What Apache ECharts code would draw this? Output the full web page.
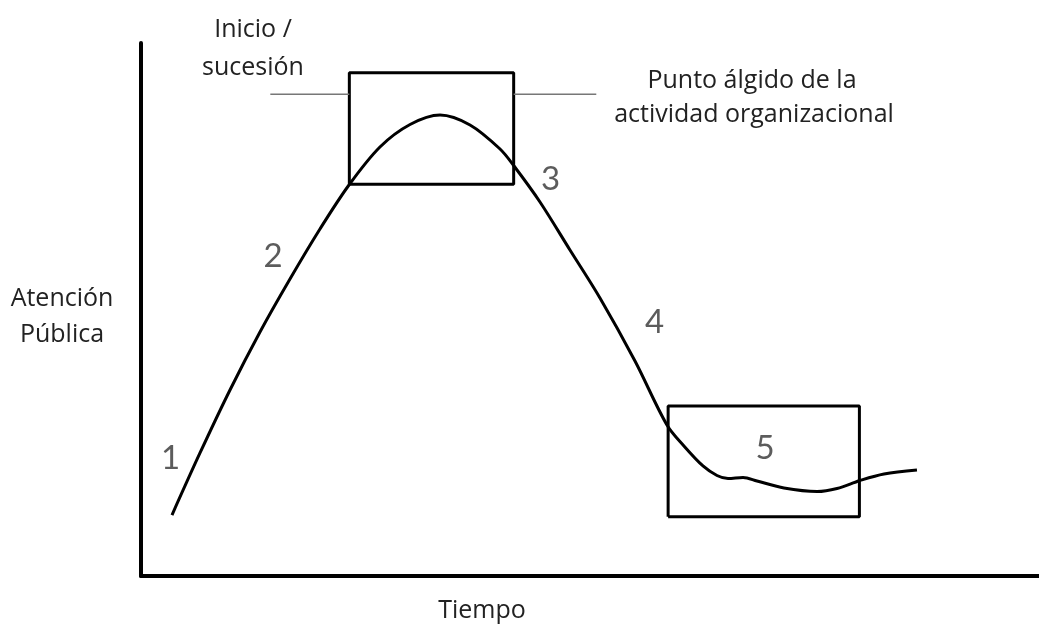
<!DOCTYPE html>
<html>
<head>
<meta charset="utf-8">
<script src="https://cdn.jsdelivr.net/npm/echarts@6/dist/echarts.min.js"></script>
<style>
  html, body { margin: 0; padding: 0; background: #fff; }
  #chart { width: 1039px; height: 626px; }
</style>
</head>
<body>
<div id="chart"></div>
<script>
// curva de atención pública (tiempo 0-100, atención 0-100)
var curveX = [3.45, 6.57, 9.91, 13.25, 16.59, 19.93, 23.16, 26.61, 29.96, 33.30, 36.64, 39.98, 41.54, 44.43, 47.77, 51.11, 55.01, 58.57, 60.46, 62.58, 64.14, 65.37, 67.04, 68.60, 71.60, 75.28, 77.51, 80.07, 82.74, 86.41];
var curveY = [11.44, 23.08, 34.90, 45.78, 55.72, 65.10, 73.36, 80.49, 84.71, 86.49, 84.62, 80.11, 76.92, 70.17, 61.16, 52.16, 40.34, 28.33, 24.39, 20.64, 18.86, 18.29, 18.48, 17.82, 16.51, 15.85, 16.42, 17.92, 19.14, 19.89];

// cajas [x0, x1, y0, y1]
var boxPeak = [23.2, 41.5, 73.5, 94.4];
var boxEnd = [58.7, 80.0, 11.1, 31.9];

// línea gris del punto álgido
var peakLineY = 90.4;
var peakLineLeft = [14.4, 23.2];
var peakLineRight = [41.5, 50.7];

// etiquetas numéricas
var stageLabels = ['1', '2', '3', '4', '5'];
var stageX = [3.3, 14.7, 45.6, 57.2, 69.5];
var stageY = [22.0, 60.0, 74.5, 47.5, 24.0];

function zip(xs, ys) {
    var arr = [];
    for (var i = 0; i < xs.length; i++) {
        arr.push([xs[i], ys[i]]);
    }
    return arr;
}
function boxPath(b) {
    return [[b[0], b[2]], [b[1], b[2]], [b[1], b[3]], [b[0], b[3]], [b[0], b[2]]];
}

var chart = echarts.init(document.getElementById('chart'));
var font = '"Open Sans", Lato, sans-serif';
var txtColor = '#222';

function label(text, x, y) {
    return {
        type: 'text', x: x, y: y,
        style: { text: text, font: '25px ' + font, fill: txtColor, align: 'center', verticalAlign: 'middle' }
    };
}

var option = {
    animation: false,
    grid: { left: 141, right: 0, top: 43, bottom: 50 },
    xAxis: {
        type: 'value', min: 0, max: 100,
        axisLine: { show: true, lineStyle: { color: '#000', width: 4 } },
        axisTick: { show: false }, axisLabel: { show: false }, splitLine: { show: false }
    },
    yAxis: {
        type: 'value', min: 0, max: 100,
        axisLine: { show: true, lineStyle: { color: '#000', width: 4 } },
        axisTick: { show: false }, axisLabel: { show: false }, splitLine: { show: false }
    },
    series: [
        {
            type: 'line', data: zip(curveX, curveY), smooth: 0.33,
            showSymbol: false, lineStyle: { color: '#000', width: 3 }, z: 3
        },
        {
            type: 'line', data: boxPath(boxPeak), showSymbol: false,
            lineStyle: { color: '#000', width: 3 }, z: 2
        },
        {
            type: 'line', data: boxPath(boxEnd), showSymbol: false,
            lineStyle: { color: '#000', width: 3 }, z: 2
        },
        {
            type: 'line', data: [[peakLineLeft[0], peakLineY], [peakLineLeft[1], peakLineY]],
            showSymbol: false, lineStyle: { color: '#777', width: 1.5 }
        },
        {
            type: 'line', data: [[peakLineRight[0], peakLineY], [peakLineRight[1], peakLineY]],
            showSymbol: false, lineStyle: { color: '#777', width: 1.5 }
        },
        {
            type: 'scatter', symbolSize: 0, z: 4,
            data: stageLabels.map(function (s, i) { return { value: [stageX[i], stageY[i]], name: s }; }),
            label: {
                show: true, position: 'inside', formatter: '{b}',
                fontFamily: 'Lato, sans-serif', fontSize: 33, color: '#333'
            }
        }
    ],
    graphic: [
        label('Inicio /', 253, 30),
        label('sucesión', 253, 68),
        label('Punto álgido de la', 752, 81),
        label('actividad organizacional', 754, 115),
        label('Atención', 62, 299),
        label('Pública', 62, 335),
        label('Tiempo', 482, 611)
    ]
};
chart.setOption(option);
</script>
</body>
</html>
